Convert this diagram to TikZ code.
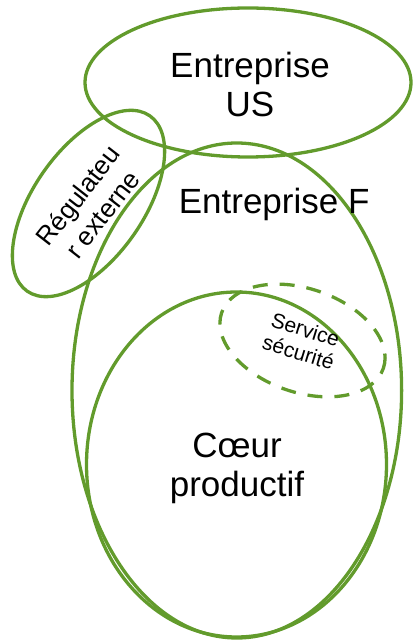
\documentclass[tikz,border=0pt]{standalone}
\usepackage{fontspec}
\setmainfont{Liberation Sans}
\definecolor{venngreen}{RGB}{98,155,44}
\begin{document}
\begin{tikzpicture}[x=1pt, y=1pt,
        zone/.style={draw=venngreen, line width=3.3pt},
        label/.style={align=center, font=\fontsize{35}{39}\selectfont}]
            \useasboundingbox (0, 0) rectangle (413, 640);

            \draw[zone] (248, 557.5) ellipse [x radius=163, y radius=74.5];
            \draw[zone] (236.8, 249.5) ellipse [x radius=164.8, y radius=247.5];
            \draw[zone] (236.5, 175.5) ellipse [x radius=150, y radius=172.5];
            \draw[zone, rotate around={55:(88.5, 436.5)}]
                (88.5, 436.5) ellipse [x radius=107, y radius=55];
            \draw[zone, dash pattern=on 15pt off 12pt, rotate around={-19:(302.5, 299.5)}]
                (302.5, 299.5) ellipse [x radius=85.5, y radius=51.8];

            \node[label] (us) at (250, 556) { Entreprise\\US };
            \node[label] (f) at (279, 436) { Entreprise F };
            \node[label, font=\fontsize{26}{31}\selectfont, rotate=52] (reg) at (90, 435) { Régulateu\\r externe };
            \node[label, font=\fontsize{21}{24}\selectfont, rotate=-17] (sec) at (302, 299) { Service\\sécurité };
            \node[label] (coeur) at (237, 172) { Cœur\\productif };

        \end{tikzpicture}
\end{document}
